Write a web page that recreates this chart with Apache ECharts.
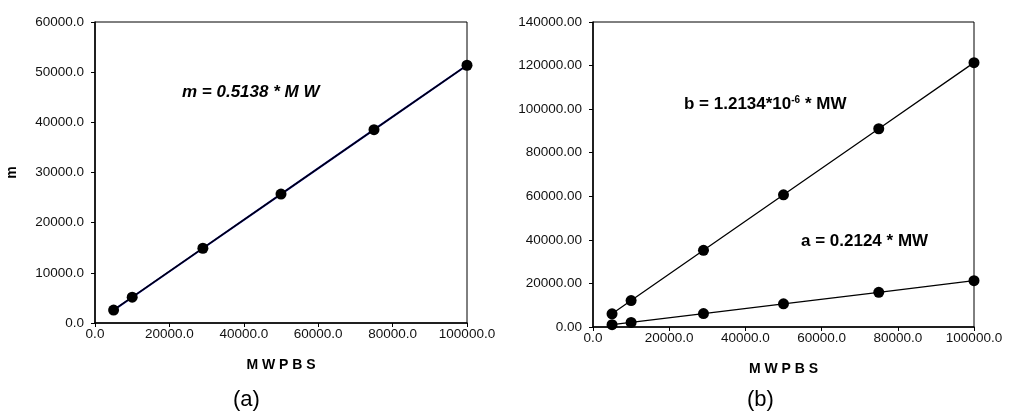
<!DOCTYPE html>
<html>
<head>
<meta charset="utf-8">
<script src="https://cdn.jsdelivr.net/npm/echarts@6/dist/echarts.min.js"></script>
<style>
html,body{margin:0;padding:0;background:#fff;}
#c{width:1015px;height:412px;}
</style>
</head>
<body>
<div id="c"></div>
<script>
// ---- data ----
const mwPBS = [5000, 10000, 29000, 50000, 75000, 100000];
const mValues = [2570, 5140, 14900, 25690, 38540, 51380];
const mTrendX = [5000, 100000];
const mTrendY = [2570, 51380];
const bValues = [6070, 12130, 35190, 60670, 91000, 121340];
const aValues = [1060, 2120, 6160, 10620, 15930, 21240];
const xTicksA = [0, 20000, 40000, 60000, 80000, 100000];
const yTicksA = [0, 10000, 20000, 30000, 40000, 50000, 60000];
const yTicksB = [0, 20000, 40000, 60000, 80000, 100000, 120000, 140000];
const xAxisTitle = 'M W P B S';
const yAxisTitleA = 'm';
const eqM = 'm = 0.5138 * M W';
const eqB = 'b = 1.2134*10{sup|-6} * MW';
const eqA = 'a = 0.2124 * MW';
const captions = ['(a)', '(b)'];

const pairs = (xs, ys) => xs.map((x, i) => [x, ys[i]]);
const FONT = '"Liberation Sans", Arial, sans-serif';

function xAxis(gi, ticks) {
  return {
    type: 'value', gridIndex: gi,
    min: ticks[0], max: ticks[ticks.length - 1], interval: ticks[1] - ticks[0],
    name: xAxisTitle, nameLocation: 'middle', nameGap: 35,
    nameTextStyle: {fontFamily: FONT, fontSize: 14, fontWeight: 'bold', color: '#000'},
    axisLine: {lineStyle: {color: '#000', width: 1.5}},
    axisTick: {show: true, inside: false, length: 4, lineStyle: {color: '#000'}},
    axisLabel: {fontFamily: FONT, fontSize: 13.5, color: '#111', margin: 4,
      formatter: v => v.toFixed(1)},
    splitLine: {show: false}
  };
}
function yAxis(gi, ticks, dec, name) {
  return {
    type: 'value', gridIndex: gi,
    min: ticks[0], max: ticks[ticks.length - 1], interval: ticks[1] - ticks[0],
    name: name || '', nameLocation: 'middle', nameGap: 76, nameRotate: 90,
    nameTextStyle: {fontFamily: FONT, fontSize: 14, fontWeight: 'bold', color: '#000'},
    axisLine: {show: true, lineStyle: {color: '#000', width: 1.5}},
    axisTick: {show: true, inside: false, length: 4, lineStyle: {color: '#000'}},
    axisLabel: {fontFamily: FONT, fontSize: 13.5, color: '#111', margin: 11,
      formatter: v => v.toFixed(dec)},
    splitLine: {show: false}
  };
}

const chart = echarts.init(document.getElementById('c'));
chart.setOption({
  backgroundColor: '#fff',
  animation: false,
  grid: [
    {left: 95, top: 22, width: 372, height: 301, show: true, borderColor: '#000', borderWidth: 1, backgroundColor: '#fff'},
    {left: 593, top: 22, width: 381, height: 305, show: true, borderColor: '#000', borderWidth: 1, backgroundColor: '#fff'}
  ],
  xAxis: [xAxis(0, xTicksA), xAxis(1, xTicksA)],
  yAxis: [yAxis(0, yTicksA, 1, yAxisTitleA), yAxis(1, yTicksB, 2)],
  series: [
    {type: 'line', xAxisIndex: 0, yAxisIndex: 0, data: pairs(mwPBS, mValues),
      symbol: 'circle', symbolSize: 11, itemStyle: {color: '#000'},
      lineStyle: {color: '#000080', width: 2}, z: 2},
    {type: 'line', xAxisIndex: 0, yAxisIndex: 0, data: pairs(mTrendX, mTrendY),
      symbol: 'none', lineStyle: {color: '#000', width: 1.2}, z: 3},
    {type: 'line', xAxisIndex: 1, yAxisIndex: 1, data: pairs(mwPBS, bValues),
      symbol: 'circle', symbolSize: 11, itemStyle: {color: '#000'},
      lineStyle: {color: '#000', width: 1.3}},
    {type: 'line', xAxisIndex: 1, yAxisIndex: 1, data: pairs(mwPBS, aValues),
      symbol: 'circle', symbolSize: 11, itemStyle: {color: '#000'},
      lineStyle: {color: '#000', width: 1.3}}
  ],
  graphic: [
    {type: 'text', left: 182, top: 84, style: {text: eqM, font: 'italic bold 17px ' + FONT, fill: '#000'}},
    {type: 'text', left: 684, top: 95, style: {text: eqB, font: 'bold 17px ' + FONT, fill: '#000',
      rich: {sup: {fontSize: 10, fontWeight: 'bold', fontFamily: FONT, verticalAlign: 'top', padding: [0, 0, 9, 0]}}}},
    {type: 'text', left: 801, top: 233, style: {text: eqA, font: 'bold 17px ' + FONT, fill: '#000'}},
    {type: 'text', left: 233, top: 389, style: {text: captions[0], font: '22px ' + FONT, fill: '#000'}},
    {type: 'text', left: 747, top: 389, style: {text: captions[1], font: '22px ' + FONT, fill: '#000'}}
  ]
});
</script>
</body>
</html>
